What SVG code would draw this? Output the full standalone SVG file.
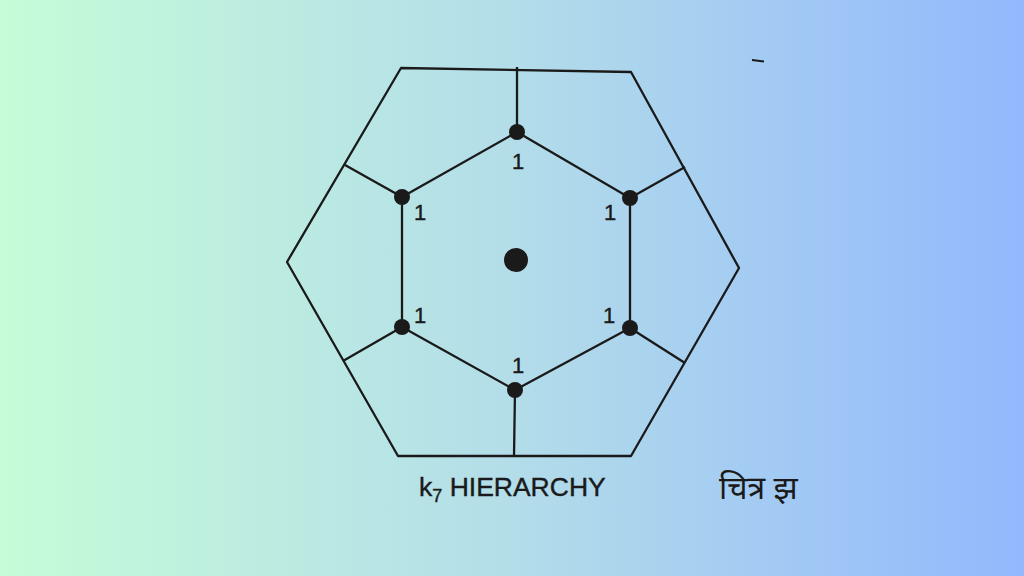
<svg xmlns="http://www.w3.org/2000/svg" width="1024" height="576" viewBox="0 0 1024 576">
<defs>
<linearGradient id="bg" x1="0" y1="0" x2="1" y2="0">
<stop offset="0" stop-color="#c6fcd8"/>
<stop offset="0.5" stop-color="#b3dde9"/>
<stop offset="1" stop-color="#93b8fd"/>
</linearGradient>
<style>
.ln{fill:none;stroke:#1a1a1a;stroke-width:2.3;stroke-linejoin:round}
.dot{fill:#1a1a1a}
.lbl{font-family:"Liberation Sans",Arial,sans-serif;font-size:22px;fill:#1a1a1a;stroke:#1a1a1a;stroke-width:0.4}
.cap{font-family:"Liberation Sans",Arial,sans-serif;font-size:26.5px;fill:#1a1a1a;stroke:#1a1a1a;stroke-width:0.4}
.hin{font-family:"Noto Sans","Noto Sans Devanagari",sans-serif;font-size:32px;fill:#1a1a1a}
</style>
</defs>
<rect width="1024" height="576" fill="url(#bg)"/>
<g id="connectors">
<polygon class="ln" points="401,68 631,72 739,268 631,456 398,456 287,262"/>
<polygon class="ln" points="517,132 630,198 630,328 515,390 402,327 402,197"/>
<line class="ln" x1="517" y1="67" x2="517" y2="132"/>
<line class="ln" x1="630" y1="198" x2="685" y2="167"/>
<line class="ln" x1="630" y1="328" x2="685" y2="363"/>
<line class="ln" x1="515" y1="390" x2="514" y2="456"/>
<line class="ln" x1="402" y1="327" x2="343" y2="361"/>
<line class="ln" x1="402" y1="197" x2="345" y2="165"/>
<line x1="752" y1="60" x2="764" y2="61.5" stroke="#1a1a1a" stroke-width="2.2"/>
</g>
<g id="center"><circle class="dot" cx="516" cy="260" r="12"/></g>
<g id="n-top"><circle class="dot" cx="517" cy="132" r="8"/><text class="lbl" x="518" y="169" text-anchor="middle">1</text></g>
<g id="n-ur"><circle class="dot" cx="630" cy="198" r="8"/><text class="lbl" x="610" y="220" text-anchor="middle">1</text></g>
<g id="n-lr"><circle class="dot" cx="630" cy="328" r="8"/><text class="lbl" x="609" y="323" text-anchor="middle">1</text></g>
<g id="n-bot"><circle class="dot" cx="515" cy="390" r="8"/><text class="lbl" x="518" y="373" text-anchor="middle">1</text></g>
<g id="n-ll"><circle class="dot" cx="402" cy="327" r="8"/><text class="lbl" x="420" y="323" text-anchor="middle">1</text></g>
<g id="n-ul"><circle class="dot" cx="402" cy="197" r="8"/><text class="lbl" x="420" y="220" text-anchor="middle">1</text></g>
<g id="caption">
<text class="cap" x="419" y="496">k<tspan font-size="18" dy="6">7</tspan><tspan dy="-6"> HIERARCHY</tspan></text>
<text class="hin" x="719" y="499">चित्र झ</text>
</g>
</svg>
